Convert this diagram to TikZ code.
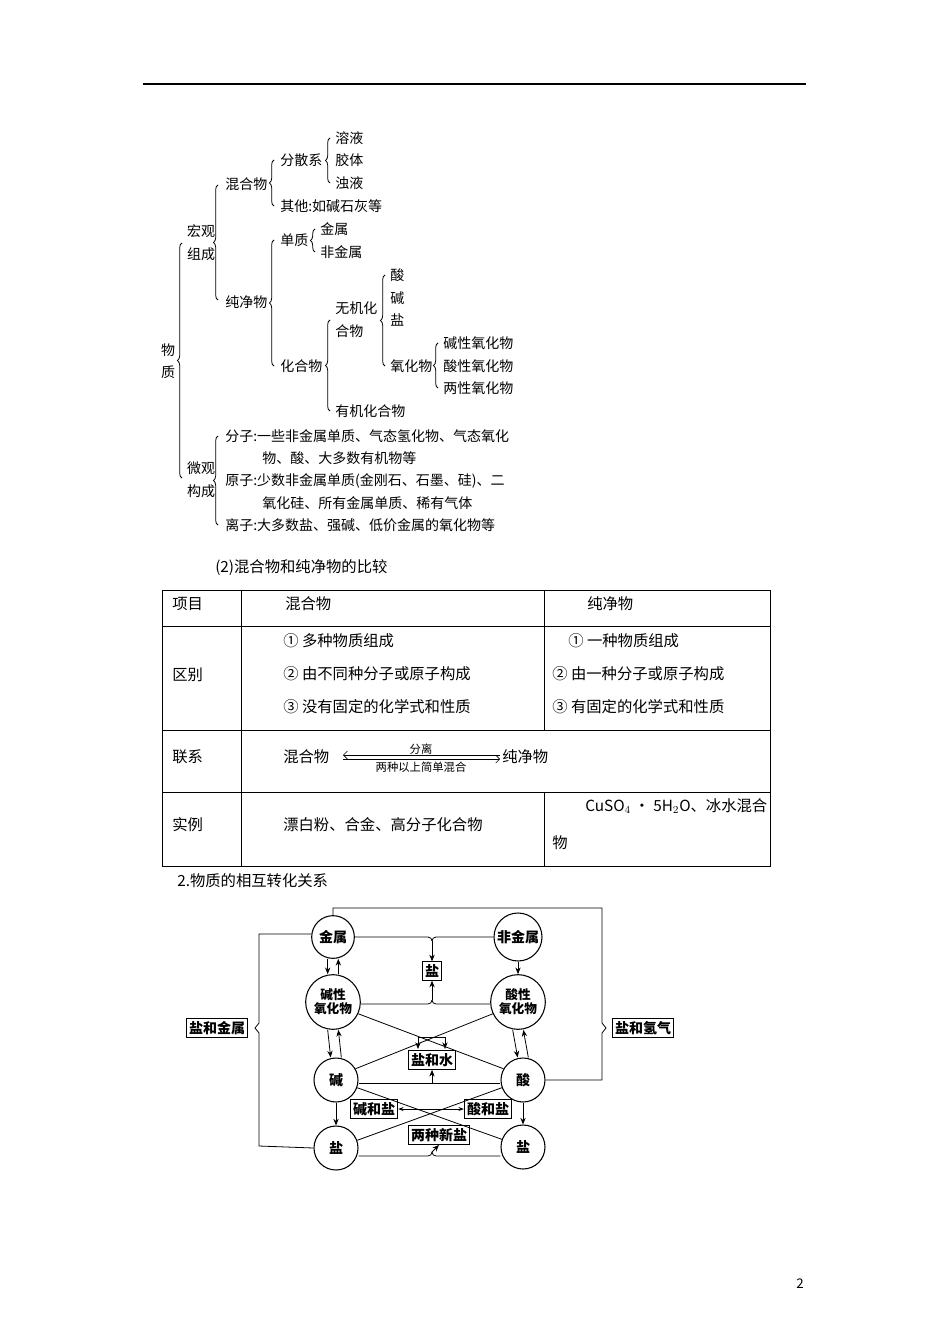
\documentclass[tikz,border=0pt]{standalone}
\usepackage{fontspec}
\setmainfont{Noto Sans CJK SC}
\usetikzlibrary{decorations.pathreplacing,arrows.meta}
\begin{document}
\begin{tikzpicture}[x=0.75pt,y=-0.75pt,
  tr/.style={font=\fontsize{10.5}{13}\selectfont,inner sep=0pt},
  trw/.style={tr,anchor=west},
  brc/.style={decorate,decoration={brace,amplitude=3.5pt,aspect=0.5},semithick},
  tb/.style={font=\fontsize{11.5}{13}\selectfont,inner sep=0pt,anchor=west},
  circ/.style={circle,draw,thick,minimum size=#1,inner sep=0pt,font=\bfseries\fontsize{10.5}{12}\selectfont,align=center},
  bx/.style={draw,thick,inner sep=2pt,font=\bfseries\fontsize{10.5}{12}\selectfont},
  ar/.style={-{Stealth[length=5pt,width=4pt]},semithick},
  ln/.style={semithick}]
\useasboundingbox (0,0) rectangle (950,1344);
\fill[white] (0,0) rectangle (950,1344);
\draw[thick] (143,84) -- (806,84);
% tree
\node[tr] (wz1) at (168,350) {物};
\node[tr] (wz2) at (168,372) {质};
\draw[brc] (182,478) -- (182,243);
\node[tr] (hg1) at (201,231) {宏观};
\node[tr] (hg2) at (201,254) {组成};
\draw[brc] (218,300) -- (218,185);
\node[trw] (hh) at (225,184) {混合物};
\draw[brc] (274,206) -- (274,160);
\node[trw] (fs) at (280,160) {分散系};
\draw[brc] (330,183) -- (330,138);
\node[trw] (ry) at (335,138) {溶液};
\node[trw] (jt) at (335,160) {胶体};
\node[trw] (zy) at (335,183) {浊液};
\node[trw] (qt) at (280,206) {其他:如碱石灰等};
\node[trw] (cj) at (225,302) {纯净物};
\draw[brc] (274,366) -- (274,240);
\node[trw] (dz) at (280,240) {单质};
\draw[brc] (315,252) -- (315,229);
\node[trw] (js) at (320,229) {金属};
\node[trw] (fj) at (320,252) {非金属};
\node[trw] (hhw) at (280,366) {化合物};
\draw[brc] (330,411) -- (330,320);
\node[trw] (wj1) at (335,308) {无机化};
\node[trw] (wj2) at (335,331) {合物};
\draw[brc] (385,366) -- (385,275);
\node[trw] (s1) at (390,275) {酸};
\node[trw] (j1) at (390,298) {碱};
\node[trw] (y1) at (390,320) {盐};
\node[trw] (yhw) at (390,366) {氧化物};
\draw[brc] (438,388) -- (438,343);
\node[trw] (jx) at (443,343) {碱性氧化物};
\node[trw] (sx) at (443,366) {酸性氧化物};
\node[trw] (lx) at (443,388) {两性氧化物};
\node[trw] (yj) at (335,411) {有机化合物};
\node[tr] (wg1) at (201,468) {微观};
\node[tr] (wg2) at (201,491) {构成};
\draw[brc] (218,525) -- (218,436);
\node[trw] (fz) at (225,436) {分子:一些非金属单质、气态氢化物、气态氧化};
\node[trw] (fz2) at (262,458) {物、酸、大多数有机物等};
\node[trw] (yz) at (225,481) {原子:少数非金属单质(金刚石、石墨、硅)、二};
\node[trw] (yz2) at (262,503) {氧化硅、所有金属单质、稀有气体};
\node[trw] (lz) at (225,525) {离子:大多数盐、强碱、低价金属的氧化物等};
% table
\node[tb] (t0) at (215,568) {(2)混合物和纯净物的比较};
\draw[semithick] (162,590) rectangle (770,866);
\foreach \yy in {626,730,792} \draw[semithick] (162,\yy) -- (770,\yy);
\draw[semithick] (241,590) -- (241,866);
\draw[semithick] (544,590) -- (544,730);
\draw[semithick] (544,792) -- (544,866);
\node[tb] (a1) at (172,604) {项目};
\node[tb] (a2) at (285,604) {混合物};
\node[tb] (a3) at (587,604) {纯净物};
\node[tb] (b0) at (172,675) {区别};
\node[tb] (b1) at (283,641) {① 多种物质组成};
\node[tb] (b2) at (283,674) {② 由不同种分子或原子构成};
\node[tb] (b3) at (283,707) {③ 没有固定的化学式和性质};
\node[tb] (c1) at (568,641) {① 一种物质组成};
\node[tb] (c2) at (552,674) {② 由一种分子或原子构成};
\node[tb] (c3) at (552,707) {③ 有固定的化学式和性质};
\node[tb] (d0) at (172,757) {联系};
\node[tb] (d1) at (283,757) {混合物};
\node[tb] (d2) at (502,757) {纯净物};
\coordinate (pl) at (343,757);
\coordinate (pr) at (500,757);
\draw[thin,-{Straight Barb[length=3pt]}] ([yshift=-1.5pt]pl) -- ([yshift=-1.5pt]pr);
\draw[thin,-{Straight Barb[length=3pt]}] ([yshift=1.5pt]pr) -- ([yshift=1.5pt]pl);
\node[font=\fontsize{8.5}{9}\selectfont,inner sep=0pt] (fl) at (421,749) {分离};
\node[font=\fontsize{8.5}{9}\selectfont,inner sep=0pt] (lm) at (421,767) {两种以上简单混合};
\node[tb] (e0) at (172,825) {实例};
\node[tb] (e1) at (283,825) {漂白粉、合金、高分子化合物};
\node[tb] (e2) at (585,806) {CuSO$_4$ • 5H$_2$O、冰水混合};
\node[tb] (e3) at (552,843) {物};
\node[tb] (f0) at (177,881) {2.物质的相互转化关系};
% diagram
\node[circ=32pt] (JS) at (333,937) {金属};
\node[circ=36pt] (FJS) at (518,937) {非金属};
\node[circ=41pt,font=\bfseries\fontsize{9.5}{10.5}\selectfont] (JX) at (333,1002) {碱性\\氧化物};
\node[circ=41pt,font=\bfseries\fontsize{9.5}{10.5}\selectfont] (SX) at (518,1002) {酸性\\氧化物};
\node[circ=33pt] (J) at (336,1080) {碱};
\node[circ=33pt] (S) at (523,1080) {酸};
\node[circ=33pt] (YL) at (336,1148) {盐};
\node[circ=33pt] (YR) at (523,1147) {盐};
\node[bx] (B1) at (432,971) {盐};
\node[bx] (B2) at (432,1060) {盐和水};
\node[bx] (B3) at (374,1109) {碱和盐};
\node[bx] (B4) at (488,1109) {酸和盐};
\node[bx] (B5) at (439,1135) {两种新盐};
\node[bx] (B6) at (217,1028) {盐和金属};
\node[bx] (B7) at (643,1028) {盐和氢气};
% 金属+非金属 -> 盐
\draw[ln] (JS.east) -- (428,937) to[out=0,in=90] (432,941);
\draw[ln] (FJS.west) -- (436,937) to[out=180,in=90] (432,941);
\draw[ar] (432,941) -- (B1.north);
% oxides -> 盐
\draw[ln] (JX.east) ++(0,2) -- (428,1004) to[out=0,in=-90] (432,1000);
\draw[ln] (SX.west) ++(0,2) -- (436,1004) to[out=180,in=-90] (432,1000);
\draw[ar] (432,1000) -- (B1.south);
% vertical pairs
\draw[ar] ([xshift=-4pt]JS.south) -- ([xshift=-4pt]JX.north);
\draw[ar] ([xshift=4pt]JX.north) -- ([xshift=4pt]JS.south);
\draw[ar] (FJS.south) -- (SX.north);
\draw[ar] ([xshift=-4pt]JX.south) -- ([xshift=-4pt]J.north);
\draw[ar] ([xshift=4pt]J.north) -- ([xshift=4pt]JX.south);
\draw[ar] ([xshift=-4pt]SX.south) -- ([xshift=-4pt]S.north);
\draw[ar] ([xshift=4pt]S.north) -- ([xshift=4pt]SX.south);
\draw[ar] (J.south) -- (YL.north);
\draw[ar] (S.south) -- (YR.north);
% oxide crosses -> 盐和水
\draw[ln] (JX.-25) -- (S.150);
\draw[ln] (SX.-155) -- (J.30);
\draw[ln] (418,1037) -- (445,1037);
\draw[ar] (418,1037) -- (418,1049);
\draw[ar] (445,1037) -- (445,1049);
% 碱-酸 -> 盐和水
\draw[ln] (J.east) ++(0,3) -- (S.west |- 0,1083);
\draw[ar] (432,1083) -- (B2.south);
% 碱-盐, 酸-盐 cross
\draw[ln] (J.-20) -- (YR.160);
\draw[ln] (S.-160) -- (YL.20);
\draw[{Stealth[length=4pt,width=3pt]}-{Stealth[length=4pt,width=3pt]},semithick] (B3.east) -- (B4.west);
% salts -> 两种新盐
\draw[ln] (YL.east) ++(0,8) -- (428,1156) to[out=0,in=-90] (432,1152);
\draw[ln] (YR.west) ++(0,9) -- (436,1156) to[out=180,in=-90] (432,1152);
\draw[ar] (432,1152) -- (B5.south);
% left loop
\draw[ln] (JS.west) ++(0,-3) -- (259,934) -- (259,1023) -- (255,1028) -- (259,1033) -- (259,1146) -- (YL.west);
% right loop
\draw[ln] (JS.north) -- (333,908) -- (602,908) -- (602,1023) -- (606,1028) -- (602,1033) -- (602,1080) -- (S.east);
\node[font=\fontsize{10}{12}\selectfont] (pg) at (800,1284) {2};
\end{tikzpicture}
\end{document}
